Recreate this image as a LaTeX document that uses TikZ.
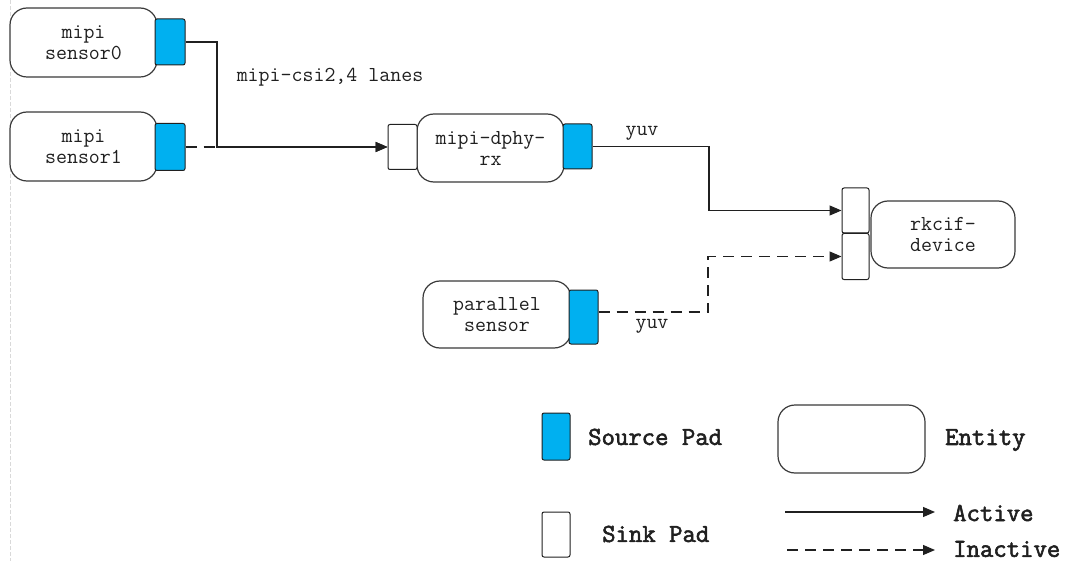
\documentclass[tikz,border=0pt]{standalone}
\usepackage{fontspec}
\usetikzlibrary{arrows.meta}
\newfontfamily\keyfont[FakeBold=2.2]{Latin Modern Mono}
\definecolor{padblue}{HTML}{00B0F0}
\definecolor{edge}{HTML}{3A3A3A}
\definecolor{ink}{HTML}{202020}
\begin{document}
\begin{tikzpicture}[x=1pt,y=-1pt,
  entity/.style={draw=edge, fill=white, line width=1.2pt, rounded corners=17pt,
    align=center, inner sep=0pt, font=\ttfamily\fontsize{21.3}{21}\selectfont, text=ink},
  srcpad/.style={draw=ink, fill=padblue, line width=1pt, rounded corners=2pt, inner sep=0pt},
  sinkpad/.style={draw=ink, fill=white, line width=1pt, rounded corners=2pt, inner sep=0pt},
  wire/.style={draw=ink, line width=1.2pt},
  flow/.style={wire, -{Triangle[length=12pt,width=10pt]}},
  idle/.style={flow, dash pattern=on 11pt off 7pt},
  lbl/.style={inner sep=0pt, font=\ttfamily\fontsize{21.3}{21}\selectfont, text=ink},
  key/.style={inner sep=0pt, anchor=west, font=\keyfont\bfseries\fontsize{26}{28}\selectfont, text=ink}
]
\useasboundingbox (0,0) rectangle (1067,561);
\draw[black!15, line width=0.8pt, dash pattern=on 4pt off 2pt] (10.5,0) -- (10.5,561);

% entities
\node[entity, minimum width=147pt, minimum height=69pt] (s0) at (83.5,42.5) {mipi\\sensor0};
\node[entity, minimum width=147pt, minimum height=69pt] (s1) at (83.5,146.5) {mipi\\sensor1};
\node[entity, minimum width=147pt, minimum height=68pt] (dphy) at (490.5,148) {mipi-dphy-\\rx};
\node[entity, minimum width=144pt, minimum height=67pt] (rk) at (943,234.5) {rkcif-\\device};
\node[entity, minimum width=148pt, minimum height=67pt] (par) at (497,314.5) {parallel\\sensor};

% pads
\node[srcpad, minimum width=30pt, minimum height=46pt] (s0pad) at (170,42) {};
\node[srcpad, minimum width=30pt, minimum height=47pt] (s1pad) at (170,147) {};
\node[sinkpad, minimum width=29pt, minimum height=45pt] (dphysink) at (402.5,147) {};
\node[srcpad, minimum width=29pt, minimum height=45pt] (dphysrc) at (577.5,146.5) {};
\node[sinkpad, minimum width=27pt, minimum height=45pt] (rk0) at (855.5,210.5) {};
\node[sinkpad, minimum width=27pt, minimum height=46pt] (rk1) at (855.5,256.5) {};
\node[srcpad, minimum width=29pt, minimum height=54pt] (parsrc) at (583.5,317) {};

% links
\coordinate (j0) at (217,147);
\draw[idle] (s1pad.east) -- (dphysink.west);
\draw[flow] (s0pad.east) -| (j0) -- (dphysink.west);
\draw[flow] (dphysrc.east) -- (709,146.5) |- (rk0.west);
\draw[idle] ([yshift=5pt]parsrc.east) -| (708,256.5) -- (rk1.west);

\node[lbl] (csi) at (330,77) {mipi-csi2,4 lanes};
\node[lbl] (yuv0) at (642,133) {yuv};
\node[lbl] (yuv1) at (652,326) {yuv};

% legend
\node[srcpad, minimum width=28pt, minimum height=47pt] (ksrc) at (556,436.5) {};
\node[key] (ksrct) at (588,437) {Source Pad};
\node[entity, minimum width=147pt, minimum height=68pt] (kent) at (851.5,439) {};
\node[key] (kentt) at (945,440) {Entity};
\node[sinkpad, minimum width=28pt, minimum height=45pt] (ksink) at (556,534.5) {};
\node[key] (ksinkt) at (602,534) {Sink Pad};
\coordinate (ka0) at (785,512);
\coordinate (ka1) at (935,512);
\coordinate (ki0) at (787,550);
\coordinate (ki1) at (935,550);
\draw[flow] (ka0) -- (ka1);
\draw[idle] (ki0) -- (ki1);
\node[key] (kat) at (953,513) {Active};
\node[key] (kit) at (953,549) {Inactive};
\end{tikzpicture}
\end{document}
